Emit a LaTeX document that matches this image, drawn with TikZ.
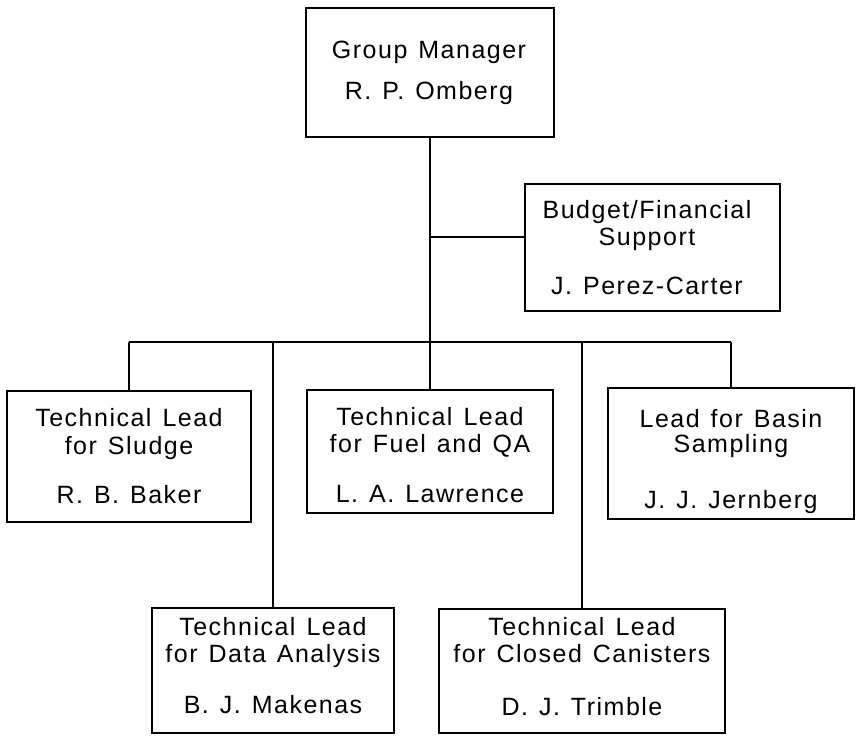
\documentclass[tikz,border=0pt]{standalone}
\usepackage{fontspec}
\setmainfont{Liberation Sans}[LetterSpace=6, WordSpace=1.3]
\begin{document}
\begin{tikzpicture}[x=1pt,y=-1pt,
  box/.style={draw=black, line width=1.8pt, inner sep=0pt, outer sep=0pt, anchor=north west},
  txt/.style={inner sep=0pt, anchor=base, font=\fontsize{25}{30}\selectfont},
  wire/.style={draw=black, line width=1.8pt}]
\useasboundingbox (0,0) rectangle (857,736);
% boxes
\node[box, minimum width=248, minimum height=129] (gm) at (306,8) {};
\node[box, minimum width=255, minimum height=127] (budget) at (525,184) {};
\node[box, minimum width=244, minimum height=131] (sludge) at (7,391) {};
\node[box, minimum width=246, minimum height=123] (fuel) at (307,390) {};
\node[box, minimum width=246, minimum height=131] (basin) at (608,388) {};
\node[box, minimum width=242, minimum height=125] (data) at (152,608) {};
\node[box, minimum width=286, minimum height=124] (closed) at (439,609) {};
% texts
\node[txt] (gm1) at (429,58) {Group Manager};
\node[txt] (gm2) at (429,99) {R. P. Omberg};
\node[txt] (bu1) at (647,218) {Budget/Financial};
\node[txt] (bu2) at (647,245) {Support};
\node[txt] (bu3) at (647,294) {J. Perez-Carter};
\node[txt] (sl1) at (129,426) {Technical Lead};
\node[txt] (sl2) at (129,454) {for Sludge};
\node[txt] (sl3) at (129,503) {R. B. Baker};
\node[txt] (fu1) at (430,425) {Technical Lead};
\node[txt] (fu2) at (430,452) {for Fuel and QA};
\node[txt] (fu3) at (430,502) {L. A. Lawrence};
\node[txt] (ba1) at (731,427) {Lead for Basin};
\node[txt] (ba2) at (731,452) {Sampling};
\node[txt] (ba3) at (731,508) {J. J. Jernberg};
\node[txt] (da1) at (273,635) {Technical Lead};
\node[txt] (da2) at (273,662) {for Data Analysis};
\node[txt] (da3) at (273,713) {B. J. Makenas};
\node[txt] (cl1) at (582,635) {Technical Lead};
\node[txt] (cl2) at (582,662) {for Closed Canisters};
\node[txt] (cl3) at (582,715) {D. J. Trimble};
% connectors
\coordinate (busL) at (129,342);
\coordinate (busR) at (731,342);
\coordinate (bj) at (430,237);
\draw[wire] (busL) -- (busR);
\draw[wire] (gm.south) -- (gm.south |- busL);
\draw[wire] (bj) -- (bj -| budget.west);
\draw[wire] (sludge.north) -- (sludge.north |- busL);
\draw[wire] (fuel.north) -- (fuel.north |- busL);
\draw[wire] (basin.north) -- (basin.north |- busL);
\draw[wire] (data.north) -- (data.north |- busL);
\draw[wire] (closed.north) -- (closed.north |- busL);
\end{tikzpicture}
\end{document}
